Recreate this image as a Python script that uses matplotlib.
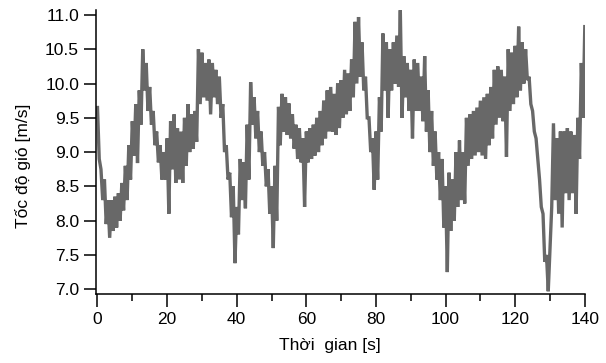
import numpy as np
import matplotlib
matplotlib.use("Agg")
import matplotlib.pyplot as plt
from matplotlib.ticker import MultipleLocator

plt.rcParams['font.family'] = ['Liberation Sans', 'DejaVu Sans']

# wind speed samples, every 0.5 s (upper / lower swing of the band)
time_s = np.arange(0, 140.5, 0.5)
wind_speed = [
    9.65, 8.9, 8.75, 8.3, 8.6, 7.95, 8.3, 7.75, 8.3, 7.85,      # 0-4.5
    8.35, 7.9, 8.4, 8.0, 8.55, 8.15, 8.8, 8.3, 9.1, 8.6,        # 5-9.5
    9.45, 8.95, 9.7, 8.84, 9.9, 9.4, 10.5, 9.9, 10.3, 9.6,      # 10-14.5
    9.95, 9.4, 9.6, 9.1, 9.3, 8.85, 9.1, 8.6, 9.0, 8.6,         # 15-19.5
    9.2, 8.1, 9.45, 8.75, 9.55, 8.55, 9.35, 8.6, 9.3, 8.55,     # 20-24.5
    9.5, 8.8, 9.7, 9.0, 9.55, 9.05, 9.6, 9.15, 10.5, 9.7,       # 25-29.5
    10.45, 9.8, 10.3, 9.75, 10.35, 9.55, 10.3, 9.8, 10.2, 9.7,  # 30-34.5
    10.1, 9.5, 9.7, 9.0, 9.1, 8.6, 8.7, 8.05, 8.5, 7.38,        # 35-39.5
    8.2, 7.8, 8.9, 8.3, 8.85, 8.18, 9.4, 8.6, 10.02, 9.4,       # 40-44.5
    9.8, 9.2, 9.6, 9.0, 9.3, 8.8, 9.0, 8.5, 8.75, 8.1,          # 45-49.5
    8.5, 7.6, 8.8, 8.0, 9.66, 9.1, 9.85, 9.3, 9.8, 9.25,        # 50-54.5
    9.71, 9.2, 9.55, 9.05, 9.4, 8.9, 9.35, 8.85, 9.2, 8.2,      # 55-59.5
    9.3, 8.85, 9.35, 8.9, 9.4, 8.95, 9.5, 9.0, 9.6, 9.1,        # 60-64.5
    9.75, 9.2, 9.9, 9.3, 9.95, 9.3, 9.85, 9.25, 10.0, 9.35,     # 65-69.5
    10.05, 9.5, 10.2, 9.55, 10.15, 9.6, 10.35, 9.8, 10.9, 10.0, # 70-74.5
    10.97, 10.1, 10.6, 9.9, 10.1, 9.5, 9.5, 9.0, 9.2, 8.45,     # 75-79.5
    9.3, 8.6, 9.8, 9.3, 10.73, 9.9, 10.6, 9.5, 10.5, 9.9,       # 80-84.5
    10.6, 10.0, 10.7, 9.95, 11.07, 9.5, 10.4, 9.8, 10.3, 9.6,   # 85-89.5
    10.2, 9.2, 10.35, 9.6, 10.3, 9.6, 10.1, 9.45, 10.4, 9.3,    # 90-94.5
    9.9, 9.0, 9.6, 8.8, 9.3, 8.6, 9.0, 8.3, 8.9, 7.9,           # 95-99.5
    8.5, 7.25, 8.7, 7.85, 8.6, 8.0, 9.0, 8.2, 9.17, 8.3,        # 100-104.5
    9.0, 8.25, 9.5, 8.8, 9.55, 8.9, 9.6, 8.95, 9.65, 9.0,       # 105-109.5
    9.75, 8.95, 9.8, 8.9, 9.85, 9.1, 9.95, 9.2, 10.2, 9.4,      # 110-114.5
    10.25, 9.5, 10.2, 9.45, 10.1, 8.93, 10.5, 9.6, 10.45, 9.7,  # 115-119.5
    10.55, 9.8, 10.83, 9.9, 10.6, 10.0, 10.5, 10.05, 10.1, 9.7, # 120-124.5
    9.6, 9.3, 9.2, 8.9, 8.6, 8.2, 8.1, 7.4, 7.5, 6.97,          # 125-129.5
    7.6, 8.2, 9.42, 8.3, 9.2, 8.1, 9.3, 7.9, 9.3, 8.4,          # 130-134.5
    9.35, 8.3, 9.3, 8.4, 9.25, 8.1, 9.5, 8.9, 10.3, 9.5,        # 135-139.5
    10.83,                                                      # 140
]

fig = plt.figure(figsize=(6.06, 3.63), dpi=100)
ax = fig.add_axes([0.158, 0.19, 0.807, 0.782])

ax.plot(time_s, wind_speed, color='#686868', linewidth=2.4, solid_joinstyle='miter')

ax.set_xlim(-0.5, 140)
ax.set_ylim(6.93, 11.07)
ax.xaxis.set_major_locator(MultipleLocator(20))
ax.xaxis.set_minor_locator(MultipleLocator(10))
ax.yaxis.set_major_locator(MultipleLocator(0.5))
ax.yaxis.set_major_formatter(plt.FormatStrFormatter('%.1f'))

for side in ['top', 'right']:
    ax.spines[side].set_visible(False)
for side in ['left', 'bottom']:
    ax.spines[side].set_linewidth(1.1)
ax.spines['bottom'].set_bounds(-0.5, 140)
ax.spines['left'].set_bounds(6.93, 11.07)

ax.tick_params(axis='x', which='major', direction='out', length=9, width=1.1,
               pad=4, labelsize=12.5)
ax.tick_params(axis='x', which='minor', direction='out', length=5, width=1.1)
ax.tick_params(axis='y', which='major', direction='out', length=9, width=1.1,
               pad=3, labelsize=12.5)

ax.set_xlabel('Thời  gian [s]', fontsize=12.5)
ax.set_ylabel('Tốc độ gió [m/s]', fontsize=12.5)
ax.xaxis.set_label_coords(0.478, -0.155)
ax.yaxis.set_label_coords(-0.133, 0.45)

fig.savefig('out.png', dpi=100)
